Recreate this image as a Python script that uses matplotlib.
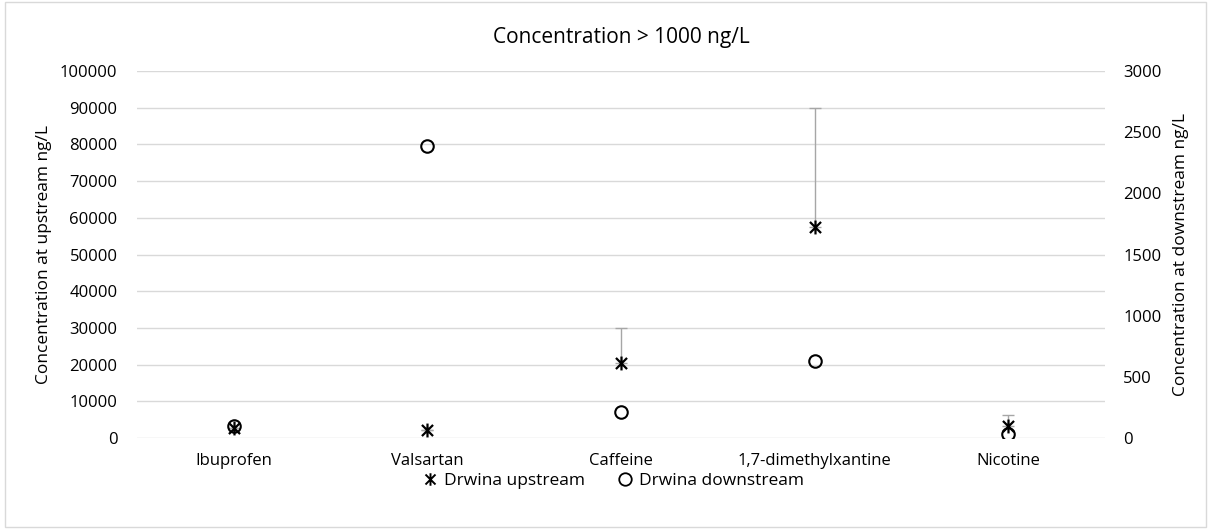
import numpy as np
import matplotlib.pyplot as plt
from matplotlib.lines import Line2D
from matplotlib.patches import Rectangle
from matplotlib.path import Path

plt.rcParams['font.family'] = ['Open Sans', 'DejaVu Sans']

# datos
compuestos = ['Ibuprofen', 'Valsartan', 'Caffeine', '1,7-dimethylxantine', 'Nicotine']
aguas_arriba = [2800, 2200, 20400, 57500, 3300]
error_arriba = [0, 0, 9600, 32500, 3000]
aguas_abajo = [100, 2390, 215, 630, 30]

gris = '#d9d9d9'
x = np.arange(len(compuestos))

# estrella tipo Excel: una x con una linea vertical
estrella = Path([(-1, -1), (1, 1), (-1, 1), (1, -1), (0, -1.25), (0, 1.25)],
                [Path.MOVETO, Path.LINETO] * 3)

fig = plt.figure(figsize=(12.11, 5.29), dpi=100)
ax = fig.add_axes([0.1131, 0.172, 0.7994, 0.6938])
ax2 = ax.twinx()

ax.set_ylim(0, 100000)
ax.set_yticks(np.arange(0, 100001, 10000))
ax2.set_ylim(0, 3000)
ax2.set_yticks(np.arange(0, 3001, 500))
ax.set_xlim(-0.5, len(compuestos) - 0.5)
ax.set_xticks(x)
ax.set_xticklabels(compuestos)
ax.grid(axis='y', color=gris, lw=1)
ax.set_axisbelow(True)

for a in (ax, ax2):
    for s in a.spines.values():
        s.set_visible(False)
    a.tick_params(length=0, labelsize=12, colors='black')
ax.tick_params(axis='y', pad=14)
ax2.tick_params(axis='y', pad=13)
ax.tick_params(axis='x', pad=11)

# barras de error, solo hacia arriba
ax.errorbar(x, aguas_arriba, yerr=[np.zeros(len(x)), error_arriba], fmt='none',
            ecolor='#a6a6a6', elinewidth=1, capsize=4, capthick=1)
ax.plot(x, aguas_arriba, ls='none', marker=estrella, ms=10, mew=1.6,
        color='black', mfc='none')
ax2.plot(x, aguas_abajo, ls='none', marker='o', ms=9, mfc='none', mec='black', mew=1.5)

ax.set_ylabel('Concentration at upstream ng/L', fontsize=12.5, labelpad=6)
ax2.set_ylabel('Concentration at downstream ng/L', fontsize=12.5, labelpad=8)
ax.set_title('Concentration > 1000 ng/L', fontsize=15, pad=20)

handles = [Line2D([], [], ls='none', marker=estrella, ms=9, mew=1.4, color='black', mfc='none'),
           Line2D([], [], ls='none', marker='o', ms=9, mfc='none', mec='black', mew=1.3)]
fig.legend(handles, ['Drwina upstream', 'Drwina downstream'], loc='center',
           bbox_to_anchor=(0.506, 0.091), ncol=2, frameon=False, fontsize=12.5,
           handletextpad=0.3, columnspacing=1.8, handlelength=1)

fig.patches.append(Rectangle((0.004, 0.004), 0.992, 0.992, transform=fig.transFigure,
                             fill=False, ec=gris, lw=1))

fig.savefig('out.png', dpi=100)
